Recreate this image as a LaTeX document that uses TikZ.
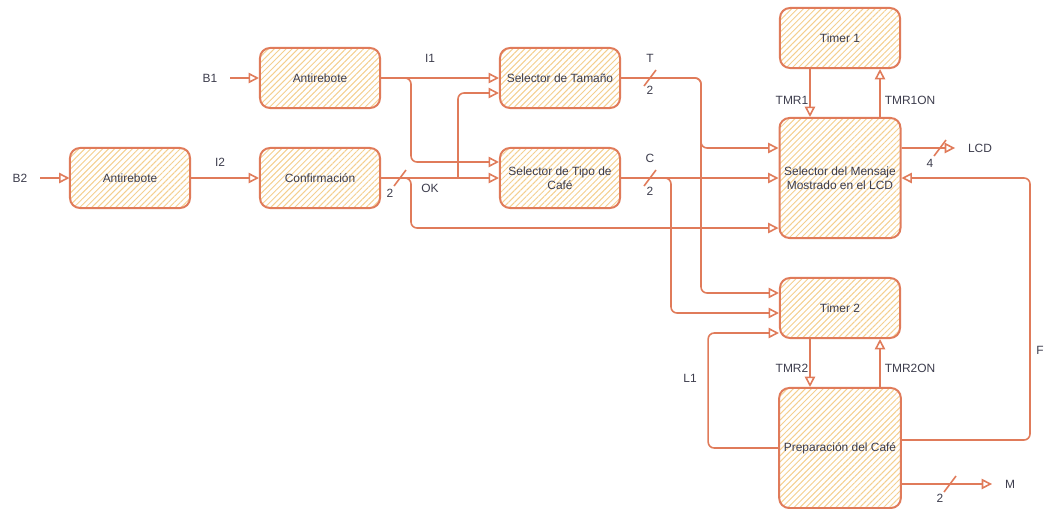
\documentclass[tikz,border=0pt]{standalone}
\usepackage{fontspec}
\setmainfont{Liberation Sans}
\usetikzlibrary{arrows.meta,patterns.meta}
\definecolor{wire}{HTML}{E07B5A}
\definecolor{hatch}{HTML}{F4CF8F}
\definecolor{ink}{HTML}{3C3C4C}
\begin{document}
\begin{tikzpicture}[x=0.025cm,y=-0.025cm]
  \tikzset{
    block/.style={draw=wire,line width=0.5mm,rounded corners=2.5mm,
      pattern={Lines[angle=45,distance=3pt,line width=0.7pt]},pattern color=hatch,
      minimum width=3cm,minimum height=1.5cm,align=center,
      font=\fontsize{8.5}{10}\selectfont,text=ink},
    bigblock/.style={block,minimum height=3cm},
    lbl/.style={font=\fontsize{8.5}{10}\selectfont,text=ink},
    sig/.style={-{Triangle[open,length=2.6mm,width=2.6mm]},draw=wire,line width=0.4mm,rounded corners=1.5mm},
    tick/.style={draw=wire,line width=0.4mm},
  }
  \useasboundingbox (0,0) rectangle (1061,508);
  % blocks
  \node[block] (ar2) at (130,178) {Antirebote};
  \node[block] (ar1) at (320,78) {Antirebote};
  \node[block] (conf) at (320,178) {Confirmación};
  \node[block] (stam) at (560,78) {Selector de Tamaño};
  \node[block] (stipo) at (560,178) {Selector de Tipo de\\Café};
  \node[block] (tmr1) at (840,38) {Timer 1};
  \node[bigblock] (msel) at (840,178) {Selector del Mensaje\\Mostrado en el LCD};
  \node[block] (tmr2) at (840,308) {Timer 2};
  \node[bigblock] (prep) at (840,448) {Preparación del Café};
  % inputs
  \node[lbl] (b1) at (210,78) {B1};
  \node[lbl] (b2) at (20,178) {B2};
  \coordinate (b1s) at (230,78);
  \coordinate (b2s) at (40,178);
  \draw[sig] (b1s) -- (ar1);
  \draw[sig] (b2s) -- (ar2);
  % I1, I2, OK
  \node[lbl] (i1) at (430,58) {I1};
  \node[lbl] (i2) at (220,162) {I2};
  \node[lbl] (ok) at (430,188) {OK};
  \node[lbl] (n1) at (390,193) {2};
  \draw[sig] (ar2) -- (conf);
  \draw[sig] (ar1) -- (stam);
  \draw[sig] (ar1.east) -- ++(30,0) |- ([yshift=0.4cm]stipo.west);
  \draw[sig] (conf) -- (stipo);
  \coordinate (okj) at (458,178);
  \draw[sig] (okj) |- ([yshift=-0.375cm]stam.west);
  \draw[sig] (conf.east) -- ++(30,0) |- ([yshift=-1.25cm]msel.west);
  % T, C
  \node[lbl] (t) at (650,58) {T};
  \node[lbl] (n2) at (650,90) {2};
  \node[lbl] (c) at (650,158) {C};
  \node[lbl] (n3) at (650,191) {2};
  \draw[sig] (stam.east) -- ++(80,0) |- ([yshift=0.75cm]msel.west);
  \draw[sig] (stam.east) -- ++(80,0) |- ([yshift=0.375cm]tmr2.west);
  \draw[sig] (stipo) -- (msel);
  \draw[sig] (stipo.east) -- ++(50,0) |- ([yshift=-0.125cm]tmr2.west);
  % timer 1
  \node[lbl] (tm1) at (792,100) {TMR1};
  \node[lbl] (tm1on) at (910,100) {TMR1ON};
  \draw[sig] ([xshift=-0.75cm]tmr1.south) -- ([xshift=-0.75cm]msel.north);
  \draw[sig] ([xshift=1cm]msel.north) -- ([xshift=1cm]tmr1.south);
  % LCD
  \node[lbl] (lcd) at (980,148) {LCD};
  \node[lbl] (n4) at (930,163) {4};
  \draw[sig] ([yshift=0.75cm]msel.east) -- ([xshift=-2mm]lcd.west);
  % timer 2
  \node[lbl] (tm2) at (792,368) {TMR2};
  \node[lbl] (tm2on) at (910,368) {TMR2ON};
  \draw[sig] ([xshift=-0.75cm]tmr2.south) -- ([xshift=-0.75cm]prep.north);
  \draw[sig] ([xshift=1cm]prep.north) -- ([xshift=1cm]tmr2.south);
  % L1
  \node[lbl] (l1) at (690,378) {L1};
  \draw[sig] (prep.west) -- ++(-70,0) |- ([yshift=-0.625cm]tmr2.west);
  % F
  \node[lbl] (f) at (1040,350) {F};
  \coordinate (fcor) at (1030,178);
  \draw[sig] ([yshift=0.2cm]prep.east) -| (fcor) -- (msel.east);
  % M
  \node[lbl] (m) at (1010,484) {M};
  \node[lbl] (n5) at (940,498) {2};
  \draw[sig] ([yshift=-0.9cm]prep.east) -- ([xshift=-2mm]m.west);
  % bus ticks
  \coordinate (k1) at (400,178);
  \coordinate (k2) at (650,78);
  \coordinate (k3) at (650,178);
  \coordinate (k4) at (940,148);
  \coordinate (k5) at (950,484);
  \foreach \k in {k1,k2,k3,k4,k5}
    \draw[tick] ([shift={(-0.15cm,-0.2cm)}]\k) -- ([shift={(0.15cm,0.2cm)}]\k);
\end{tikzpicture}
\end{document}
